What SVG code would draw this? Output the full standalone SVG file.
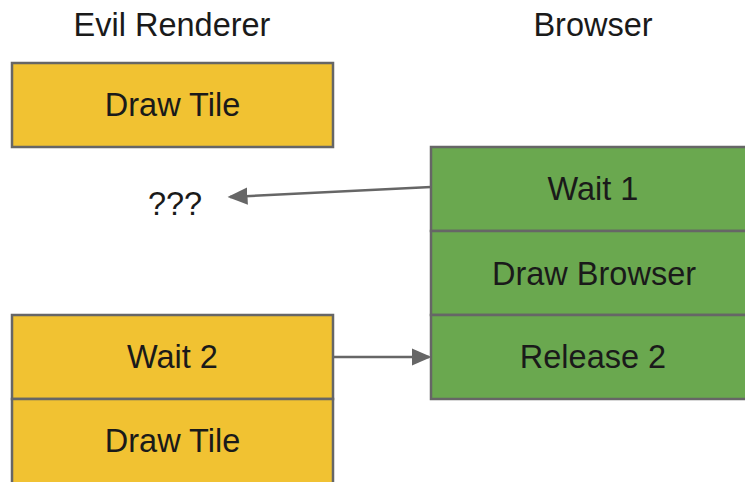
<svg xmlns="http://www.w3.org/2000/svg" width="745" height="482" viewBox="0 0 745 482">
<defs>
<style>
.t{font-family:"Liberation Sans",Arial,sans-serif;font-size:32.5px;fill:#1a1a1a;text-anchor:middle}
.y{fill:#f1c232;stroke:#666666;stroke-width:2.5}
.g{fill:#6aa84f;stroke:#666666;stroke-width:2.5}
.c{stroke:#666666;stroke-width:2.5;fill:none}
</style>
<marker id="ah" markerWidth="8" markerHeight="7" refX="7" refY="3.5" orient="auto" markerUnits="strokeWidth">
<path d="M0,0 L8,3.5 L0,7 Z" fill="#666666"/>
</marker>
</defs>
<rect width="745" height="482" fill="#ffffff"/>
<g id="labels">
<text class="t" x="172" y="36">Evil Renderer</text>
<text class="t" x="593" y="36">Browser</text>
</g>
<g id="r-draw-tile-1">
<rect class="y" x="12" y="63" width="321" height="84"/>
<text class="t" x="172.5" y="116">Draw Tile</text>
</g>
<g id="unknown">
<text class="t" x="175" y="215">???</text>
</g>
<g id="b-wait-1">
<rect class="g" x="431" y="147" width="330" height="84"/>
<text class="t" x="593" y="200">Wait 1</text>
</g>
<g id="b-draw-browser">
<rect class="g" x="431" y="231" width="330" height="84"/>
<text class="t" x="594" y="285">Draw Browser</text>
</g>
<g id="b-release-2">
<rect class="g" x="431" y="315" width="330" height="84"/>
<text class="t" x="593" y="368">Release 2</text>
</g>
<g id="r-wait-2">
<rect class="y" x="12" y="315" width="321" height="84"/>
<text class="t" x="172.5" y="368">Wait 2</text>
</g>
<g id="r-draw-tile-2">
<rect class="y" x="12" y="399" width="321" height="90"/>
<text class="t" x="172.5" y="452">Draw Tile</text>
</g>
<g id="connectors">
<line class="c" x1="431" y1="187" x2="230" y2="197" marker-end="url(#ah)"/>
<line class="c" x1="333" y1="357" x2="429" y2="357" marker-end="url(#ah)"/>
</g>
</svg>
